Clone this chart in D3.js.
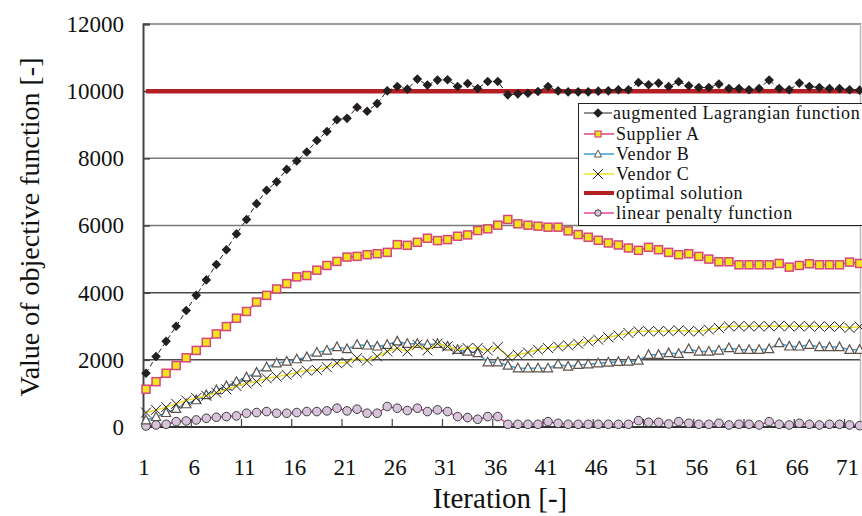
<!DOCTYPE html>
<html>
<head>
<meta charset="utf-8">
<script src="https://cdn.jsdelivr.net/npm/d3@7"></script>
<style>
  body { margin: 0; background: #fff; }
  svg { display: block; font-family: "Liberation Serif", "Times New Roman", serif; }
</style>
</head>
<body>
<div id="chart"></div>
<script>
// iteration numbers (categories)
var iterations = d3.range(1, 73);
var xTickLabels = [1, 6, 11, 16, 21, 26, 31, 36, 41, 46, 51, 56, 61, 66, 71];
var yTicks = [0, 2000, 4000, 6000, 8000, 10000, 12000];

var lagrangian = [1600,2100,2550,3000,3470,3920,4380,4840,5280,5750,
  6180,6650,7050,7300,7670,7920,8190,8530,8800,9150,
  9190,9520,9400,9630,10010,10140,10060,10360,10180,10330,
  10340,10140,10230,10080,10290,10290,9890,9920,9940,9990,
  10140,10010,9980,9980,9980,10000,10010,10040,10040,10260,
  10190,10240,10140,10280,10160,10110,10110,10210,10080,10080,
  10040,10080,10330,10080,10040,10240,10140,10110,10080,10080,10040,10030];

var supplierA = [1125,1350,1600,1830,2060,2280,2520,2770,2990,3240,
  3440,3720,3920,4110,4270,4470,4510,4670,4810,4930,
  5060,5080,5130,5160,5200,5430,5410,5500,5620,5550,
  5580,5680,5720,5850,5900,6010,6180,6050,6010,5980,
  5950,5950,5840,5730,5650,5560,5480,5420,5330,5260,
  5350,5280,5200,5130,5160,5080,5000,4920,4920,4830,
  4830,4830,4830,4870,4760,4810,4860,4830,4830,4830,4910,4870];

var vendorB = [200,300,420,540,680,800,950,1100,1220,1350,
  1480,1620,1780,1900,1950,2020,2080,2220,2280,2380,
  2320,2450,2430,2400,2450,2550,2480,2480,2450,2480,
  2400,2300,2250,2200,1930,1930,1830,1750,1750,1750,
  1750,1870,1800,1850,1870,1900,1920,1940,1950,1980,
  2150,2150,2200,2180,2320,2250,2250,2280,2350,2300,
  2300,2300,2320,2500,2400,2400,2450,2380,2380,2380,2300,2300];

var vendorC = [430,510,590,690,790,860,930,1020,1120,1220,
  1300,1350,1450,1500,1550,1620,1680,1700,1780,1900,
  1920,2050,1980,2100,2250,2350,2250,2450,2280,2480,
  2400,2300,2350,2350,2280,2380,2100,2150,2220,2300,
  2350,2400,2430,2480,2550,2600,2670,2730,2800,2850,
  2850,2850,2850,2880,2850,2850,2900,2950,3000,3000,
  3000,3000,3000,3010,3000,3000,3000,2990,2990,2990,2950,2990];

var penalty = [30,60,80,160,180,210,260,290,310,330,
  410,430,460,410,410,430,460,460,480,560,
  480,530,410,410,610,560,490,560,460,510,
  460,310,280,230,310,310,80,80,80,80,
  160,110,80,80,80,80,80,80,80,190,
  140,140,90,160,110,80,80,110,60,80,
  80,60,160,80,60,110,80,60,80,80,60,40];

var optimalSolution = 10000;

var width = 862, height = 516;

var svg = d3.select("#chart").append("svg")
    .attr("width", width)
    .attr("height", height);

// scales
var x = d3.scalePoint().domain(iterations).range([146, 859.6]);
var y = d3.scaleLinear().domain([0, 12000]).range([427, 24]);
var step = x.step();

// gridlines
svg.append("g").selectAll("line")
    .data(yTicks.filter(d => d > 0))
    .enter().append("line")
    .attr("x1", 143).attr("x2", 861)
    .attr("y1", d => y(d)).attr("y2", d => y(d))
    .attr("stroke", d => d <= 4000 ? "#4a4a4a" : "#7a7a7a")
    .attr("stroke-width", 1.5);

// right border
svg.append("line")
    .attr("x1", 860.5).attr("x2", 860.5)
    .attr("y1", y(12000)).attr("y2", y(0))
    .attr("stroke", "#bbb").attr("stroke-width", 1.5);

// y axis
var yAxis = d3.axisLeft(y).tickValues(yTicks).tickSize(-7).tickPadding(19)
    .tickFormat(d3.format("d"));
var yg = svg.append("g").attr("transform", "translate(143,0)").call(yAxis);
yg.select(".domain").attr("stroke", "#444").attr("stroke-width", 2);
yg.selectAll(".tick line").attr("stroke", "#444").attr("stroke-width", 1.5);
yg.selectAll(".tick text")
    .attr("font-family", "Liberation Serif")
    .attr("font-size", 23)
    .attr("fill", "#111");

// x axis
svg.append("line")
    .attr("x1", 143).attr("x2", 861)
    .attr("y1", y(0)).attr("y2", y(0))
    .attr("stroke", "#333").attr("stroke-width", 2);

svg.append("g").selectAll("line")
    .data(xTickLabels.slice(1))
    .enter().append("line")
    .attr("x1", d => x(d) - step / 2).attr("x2", d => x(d) - step / 2)
    .attr("y1", y(0)).attr("y2", y(0) - 8)
    .attr("stroke", "#444").attr("stroke-width", 1.2);

svg.append("g").selectAll("text")
    .data(xTickLabels)
    .enter().append("text")
    .attr("x", d => x(d) - 2)
    .attr("y", 475)
    .attr("text-anchor", "middle")
    .attr("font-size", 23)
    .attr("fill", "#111")
    .text(d => d);

// axis titles
svg.append("text")
    .attr("x", 500).attr("y", 508)
    .attr("text-anchor", "middle")
    .attr("font-size", 29)
    .attr("fill", "#111")
    .text("Iteration [-]");

svg.append("text")
    .attr("transform", "translate(39,227) rotate(-90)")
    .attr("text-anchor", "middle")
    .attr("font-size", 28)
    .attr("fill", "#111")
    .text("Value of objective function [-]");

// marker shapes
var diamond = "M0,-4.8L4.8,0L0,4.8L-4.8,0Z";
var triangle = "M0,-5L4.6,3.6L-4.6,3.6Z";
var cross = "M-5,-5L5,5M-5,5L5,-5";

var line = d3.line().x((d, i) => x(iterations[i])).y(d => y(d));

// optimal solution
svg.append("line")
    .attr("x1", x(1)).attr("x2", 861)
    .attr("y1", y(optimalSolution)).attr("y2", y(optimalSolution))
    .attr("stroke", "#b41f24").attr("stroke-width", 4.5);

// linear penalty function
svg.append("path").attr("d", line(penalty))
    .attr("fill", "none").attr("stroke", "#e6157f").attr("stroke-width", 1.2);
svg.append("g").selectAll("circle")
    .data(penalty).enter().append("circle")
    .attr("cx", (d, i) => x(iterations[i])).attr("cy", d => y(d))
    .attr("r", 4.3)
    .attr("fill", "#d8c3dc").attr("stroke", "#3c3c3c").attr("stroke-width", 1);

// Vendor B
svg.append("path").attr("d", line(vendorB))
    .attr("fill", "none").attr("stroke", "#3a9fd6").attr("stroke-width", 1.5);
svg.append("g").selectAll("path")
    .data(vendorB).enter().append("path")
    .attr("transform", (d, i) => "translate(" + x(iterations[i]) + "," + y(d) + ")")
    .attr("d", triangle)
    .attr("fill", "#fff").attr("stroke", "#5e524c").attr("stroke-width", 1.2);

// Vendor C
svg.append("path").attr("d", line(vendorC))
    .attr("fill", "none").attr("stroke", "#f0e22a").attr("stroke-width", 1.5);
svg.append("g").selectAll("path")
    .data(vendorC).enter().append("path")
    .attr("transform", (d, i) => "translate(" + x(iterations[i]) + "," + y(d) + ")")
    .attr("d", cross)
    .attr("fill", "none").attr("stroke", "#222").attr("stroke-width", 1);

// Supplier A
svg.append("path").attr("d", line(supplierA))
    .attr("fill", "none").attr("stroke", "#d4467c").attr("stroke-width", 1.5);
svg.append("g").selectAll("rect")
    .data(supplierA).enter().append("rect")
    .attr("x", (d, i) => x(iterations[i]) - 4).attr("y", d => y(d) - 4)
    .attr("width", 8).attr("height", 8)
    .attr("fill", "#f3e41d").attr("stroke", "#d4467c").attr("stroke-width", 1.5);

// augmented Lagrangian function
svg.append("path").attr("d", line(lagrangian))
    .attr("fill", "none").attr("stroke", "#222").attr("stroke-width", 1)
    .attr("stroke-dasharray", "5,3");
svg.append("g").selectAll("path")
    .data(lagrangian).enter().append("path")
    .attr("transform", (d, i) => "translate(" + x(iterations[i]) + "," + y(d) + ")")
    .attr("d", diamond)
    .attr("fill", "#231f20");

// legend
var legendItems = [
  {name: "augmented Lagrangian function", key: "lag"},
  {name: "Supplier A", key: "sup"},
  {name: "Vendor B", key: "vb"},
  {name: "Vendor C", key: "vc"},
  {name: "optimal solution", key: "opt"},
  {name: "linear penalty function", key: "pen"}
];
var legendY = [113, 134, 154, 174, 193, 213];

var legend = svg.append("g");
legend.append("rect")
    .attr("x", 578.5).attr("y", 103.5)
    .attr("width", 300).attr("height", 122)
    .attr("fill", "#fff").attr("stroke", "#222").attr("stroke-width", 1);

var rows = legend.selectAll("g.row")
    .data(legendItems).enter().append("g")
    .attr("class", "row")
    .attr("transform", (d, i) => "translate(0," + legendY[i] + ")");

rows.each(function (d) {
  var g = d3.select(this);
  if (d.key == "lag") {
    g.append("line").attr("x1", 584).attr("x2", 612).attr("stroke", "#222").attr("stroke-width", 1);
    g.append("path").attr("transform", "translate(598,0)").attr("d", diamond).attr("fill", "#231f20");
  } else if (d.key == "sup") {
    g.append("line").attr("x1", 584).attr("x2", 614).attr("stroke", "#d4467c").attr("stroke-width", 1.5);
    g.append("rect").attr("x", 595).attr("y", -3).attr("width", 6).attr("height", 6)
        .attr("fill", "#f3e41d").attr("stroke", "#d4467c").attr("stroke-width", 1.2);
  } else if (d.key == "vb") {
    g.append("line").attr("x1", 584).attr("x2", 614).attr("stroke", "#3a9fd6").attr("stroke-width", 1.5);
    g.append("path").attr("transform", "translate(598,0)").attr("d", "M0,-4L3.6,3L-3.6,3Z")
        .attr("fill", "#fff").attr("stroke", "#5e524c").attr("stroke-width", 1);
  } else if (d.key == "vc") {
    g.append("line").attr("x1", 584).attr("x2", 614).attr("stroke", "#f0e22a").attr("stroke-width", 1.5);
    g.append("path").attr("transform", "translate(598,0)").attr("d", cross)
        .attr("stroke", "#222").attr("stroke-width", 1);
  } else if (d.key == "opt") {
    g.append("line").attr("x1", 584).attr("x2", 614).attr("stroke", "#b41f24").attr("stroke-width", 4);
  } else {
    g.append("line").attr("x1", 584).attr("x2", 614).attr("stroke", "#e6157f").attr("stroke-width", 1.2);
    g.append("circle").attr("cx", 598).attr("r", 3.2)
        .attr("fill", "#d8c3dc").attr("stroke", "#3c3c3c").attr("stroke-width", 1);
  }
});

rows.append("text")
    .attr("x", d => d.key == "lag" ? 613 : 616)
    .attr("y", 0)
    .attr("dy", "0.33em")
    .attr("font-size", 18)
    .attr("letter-spacing", 0.6)
    .attr("fill", "#111")
    .text(d => d.name);
</script>
</body>
</html>
